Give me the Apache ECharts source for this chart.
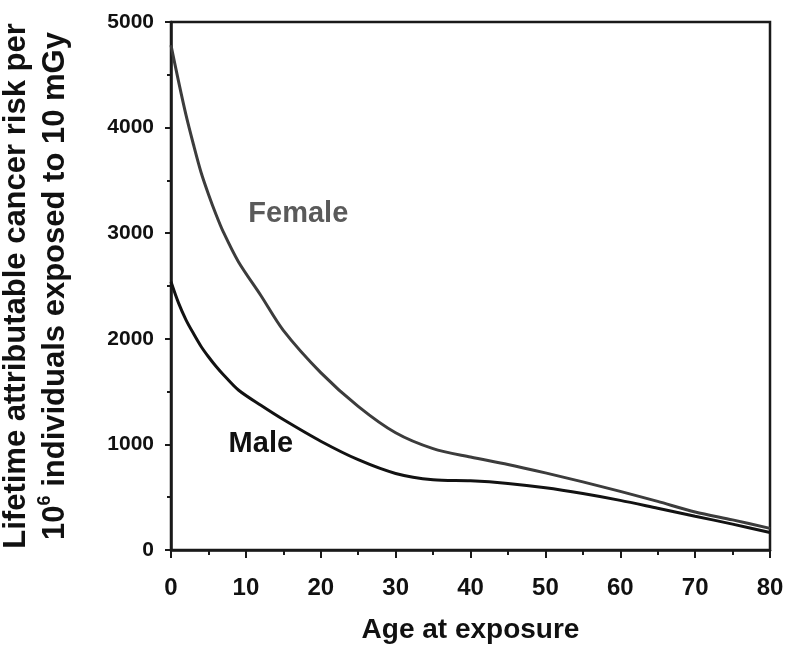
<!DOCTYPE html>
<html>
<head>
<meta charset="utf-8">
<script src="https://cdn.jsdelivr.net/npm/echarts@6/dist/echarts.min.js"></script>
<style>
  html, body { margin: 0; padding: 0; background: #fff; }
  #chart { width: 785px; height: 649px; }
</style>
</head>
<body>
<div id="chart"></div>
<script>
// age at exposure (years)
const ages = [0, 1, 2, 3, 4, 5, 6, 7, 9, 12, 15, 20, 25, 30, 35, 40, 45, 50, 55, 60, 65, 70, 75, 80]
const female = [4780, 4440, 4120, 3840, 3580, 3370, 3180, 3010, 2730, 2410, 2080, 1680, 1360, 1110, 960, 880, 810, 730, 645, 555, 460, 360, 285, 205]
const male = [2540, 2340, 2180, 2050, 1930, 1830, 1740, 1660, 1515, 1370, 1235, 1030, 855, 725, 665, 655, 630, 590, 535, 470, 395, 320, 245, 165]

// where the in-plot labels sit (data coords)
const femaleLabelAt = [17, 3180]
const maleLabelAt = [12, 1000]

const FONT = '"Liberation Sans", Arial, Helvetica, sans-serif'
const AXIS = '#1a1a1a'

const chart = echarts.init(document.getElementById('chart'))

function seriesLine(name, values, color, labelAt, labelColor) {
  return {
    name,
    type: 'line',
    data: ages.map((a, i) => [a, values[i]]),
    showSymbol: false,
    smooth: 0.3,
    lineStyle: { color, width: 3 },
    itemStyle: { color },
    markPoint: {
      symbol: 'circle',
      symbolSize: 0,
      silent: true,
      data: [{ coord: labelAt, value: name }],
      label: {
        show: true,
        position: 'inside',
        formatter: name,
        fontFamily: FONT,
        fontWeight: 'bold',
        fontSize: 29,
        color: labelColor
      }
    }
  }
}

chart.setOption({
  animation: false,
  grid: {
    left: 171, right: 15, top: 22, bottom: 99,
    outerBoundsMode: 'none',
    containLabel: false,
    show: true,
    borderColor: AXIS,
    borderWidth: 2.5
  },
  xAxis: {
    type: 'value',
    min: 0,
    max: 80,
    interval: 10,
    name: 'Age at exposure',
    nameLocation: 'middle',
    nameGap: 66,
    nameTextStyle: { fontFamily: FONT, fontWeight: 'bold', fontSize: 28, color: '#111' },
    axisLine: { lineStyle: { color: AXIS, width: 2.5 } },
    axisTick: { length: 8, lineStyle: { color: AXIS, width: 2 } },
    minorTick: { show: true, splitNumber: 2, length: 5, lineStyle: { color: AXIS, width: 2 } },
    splitLine: { show: false },
    axisLabel: { fontFamily: FONT, fontWeight: 'bold', fontSize: 24, color: '#111', margin: 26 }
  },
  yAxis: {
    type: 'value',
    min: 0,
    max: 5000,
    interval: 1000,
    name: '{a|Lifetime attributable cancer risk per}\n{a|10}{s|6}{a| individuals exposed to 10 mGy}',
    nameLocation: 'middle',
    nameRotate: 90,
    nameGap: 96,
    nameTextStyle: {
      fontFamily: FONT,
      fontWeight: 'bold',
      color: '#111',
      rich: {
        a: { fontFamily: FONT, fontWeight: 'bold', fontSize: 31, color: '#111', lineHeight: 39 },
        s: { fontFamily: FONT, fontWeight: 'bold', fontSize: 18, color: '#111', verticalAlign: 'top', lineHeight: 39, padding: [0, 0, 12, 0] }
      }
    },
    axisLine: { show: true, lineStyle: { color: AXIS, width: 2.5 } },
    axisTick: { show: true, length: 6, lineStyle: { color: AXIS, width: 2 } },
    minorTick: { show: true, splitNumber: 2, length: 4, lineStyle: { color: AXIS, width: 2 } },
    splitLine: { show: false },
    axisLabel: {
      fontFamily: FONT, fontWeight: 'bold', fontSize: 21, color: '#111', margin: 17,
      formatter: v => String(v)
    }
  },
  series: [
    seriesLine('Female', female, '#3c3c3c', femaleLabelAt, '#5a5a5a'),
    seriesLine('Male', male, '#121212', maleLabelAt, '#111')
  ]
})
</script>
</body>
</html>
